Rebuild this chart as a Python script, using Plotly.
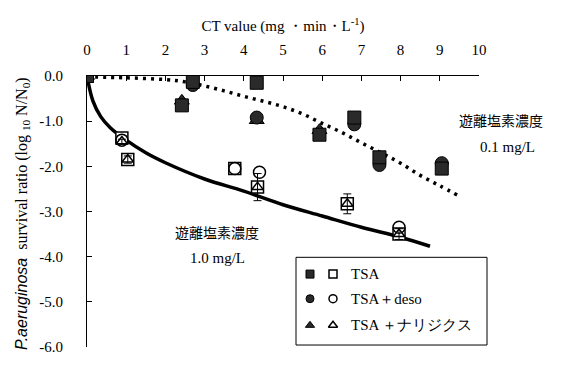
import plotly.graph_objects as go

# ---- measured survival (log10 N/N0) versus CT value ----
# free chlorine 0.1 mg/L (filled symbols)
ct_tsa_01 = [0, 2.42, 2.7, 4.33, 5.93, 6.82, 7.46, 9.05]
lr_tsa_01 = [0, -0.65, -0.13, -0.15, -1.3, -0.92, -1.8, -2.05]
ct_deso_01 = [0, 2.7, 4.33, 6.82, 7.46, 9.05]
lr_deso_01 = [0, -0.2, -0.92, -1.07, -1.97, -1.93]
ct_nal_01 = [0, 2.42, 4.33, 5.93]
lr_nal_01 = [0, -0.55, -0.98, -1.2]

# free chlorine 1.0 mg/L (open symbols)
ct_tsa_10 = [0, 0.89, 1.04, 3.77, 4.35, 6.64, 7.96]
lr_tsa_10 = [0, -1.37, -1.85, -2.05, -2.46, -2.83, -3.5]
ct_deso_10 = [0, 0.89, 3.77, 4.4, 7.96]
lr_deso_10 = [0, -1.42, -2.05, -2.13, -3.35]
ct_nal_10 = [0, 0.89, 1.04, 4.35, 6.64, 7.96]
lr_nal_10 = [0, -1.45, -1.85, -2.46, -2.83, -3.5]
err_nal_10 = [0, 0.05, 0.08, 0.3, 0.22, 0.12]

# fitted inactivation curves
fit01_ct = [0, 1, 2, 2.5, 3, 3.5, 4, 4.5, 5, 5.5, 6, 6.5, 7, 7.5, 8, 8.5, 9, 9.5]
fit01_lr = [-0.02, -0.04, -0.08, -0.13, -0.22, -0.33, -0.45, -0.56, -0.68,
            -0.84, -1.05, -1.25, -1.48, -1.7, -1.93, -2.2, -2.43, -2.66]
fit10_ct = [0, 0.15, 0.35, 0.6, 1.0, 1.5, 2, 3, 4, 5, 6, 7, 8, 8.75]
fit10_lr = [0, -0.55, -0.9, -1.15, -1.42, -1.7, -1.92, -2.28, -2.55, -2.85,
            -3.1, -3.35, -3.57, -3.77]

# axis ticks
x_ticks = list(range(0, 11))
y_ticks = [0, -1, -2, -3, -4, -5, -6]
y_ticktext = ["0.0", "-1.0", "-2.0", "-3.0", "-4.0", "-5.0", "-6.0"]

# legend rows
legend_labels = ["TSA", "TSA＋deso", "TSA ＋ナリジクス"]
legend_symbols = ["square", "circle", "triangle-up"]

W, H = 562, 367
ML, MR, MT, MB = 87, 83, 76, 16
PW, PH = W - ML - MR, H - MT - MB


def px(x):
    return (x - ML) / PW


def py(y):
    return (H - MB - y) / PH


SERIF = "Liberation Serif"
CJK = "Noto Sans CJK JP"
INK = "#2a2a2a"

fig = go.Figure()

fig.add_trace(go.Scatter(x=fit01_ct, y=fit01_lr, mode="lines",
                         line=dict(color="black", width=3.5, dash="3px,5px", shape="spline"),
                         hoverinfo="skip", showlegend=False))
fig.add_trace(go.Scatter(x=fit10_ct, y=fit10_lr, mode="lines",
                         line=dict(color="black", width=3.5, shape="spline"),
                         hoverinfo="skip", showlegend=False))

open_line = dict(color="black", width=1.5)
fig.add_trace(go.Scatter(x=ct_tsa_10, y=lr_tsa_10, mode="markers", showlegend=False,
                         marker=dict(symbol="square", size=12, color="white", line=open_line)))
fig.add_trace(go.Scatter(x=ct_deso_10, y=lr_deso_10, mode="markers", showlegend=False,
                         marker=dict(symbol="circle", size=12, color="rgba(0,0,0,0)", line=open_line)))
fig.add_trace(go.Scatter(x=ct_nal_10, y=lr_nal_10, mode="markers", showlegend=False,
                         error_y=dict(type="data", array=err_nal_10, color="black",
                                      thickness=1, width=4),
                         marker=dict(symbol="triangle-up", size=10, color="rgba(0,0,0,0)",
                                     line=open_line)))

fill_line = dict(color="black", width=1)
fig.add_trace(go.Scatter(x=ct_nal_01, y=lr_nal_01, mode="markers", showlegend=False,
                         marker=dict(symbol="triangle-up", size=13, color=INK, line=fill_line)))
fig.add_trace(go.Scatter(x=ct_deso_01, y=lr_deso_01, mode="markers", showlegend=False,
                         marker=dict(symbol="circle", size=13, color=INK, line=fill_line)))
fig.add_trace(go.Scatter(x=ct_tsa_01, y=lr_tsa_01, mode="markers", showlegend=False,
                         marker=dict(symbol="square", size=13, color=INK, line=fill_line)))

# legend box drawn on an overlay axis in paper units
row_y = [py(277), py(302), py(329)]
for sym, yy in zip(legend_symbols, row_y):
    fig.add_trace(go.Scatter(x=[px(310)], y=[yy], mode="markers", xaxis="x2", yaxis="y2",
                             showlegend=False, hoverinfo="skip", cliponaxis=False,
                             marker=dict(symbol=sym, size=8, color=INK, line=dict(color="black", width=1))))
    fig.add_trace(go.Scatter(x=[px(333)], y=[yy], mode="markers", xaxis="x2", yaxis="y2",
                             showlegend=False, hoverinfo="skip", cliponaxis=False,
                             marker=dict(symbol=sym, size=8, color="white",
                                         line=dict(color="black", width=1.5))))

annotations = []
for lab, yy in zip(legend_labels, row_y):
    annotations.append(dict(x=px(349), y=yy, text=lab, xanchor="left",
                            font=dict(family=SERIF, size=15, color="black")))

annotations += [
    dict(x=px(501), y=py(121), text="遊離塩素濃度", font=dict(family=CJK, size=14, color="black")),
    dict(x=px(507), y=py(148), text="0.1 mg/L", font=dict(family=SERIF, size=15, color="black")),
    dict(x=px(217), y=py(234), text="遊離塩素濃度", font=dict(family=CJK, size=14, color="black")),
    dict(x=px(217), y=py(261), text="1.0 mg/L", font=dict(family=SERIF, size=15, color="black")),
    dict(x=px(23), y=py(216), textangle=-90,
         text="<i><span style='font-family:Liberation Sans'>P.aeruginosa</span></i>"
              "  survival ratio (log <sub>10</sub> N/N<sub>0</sub>)",
         font=dict(family=SERIF, size=16, color="black")),
]
for a in annotations:
    a.setdefault("xref", "paper")
    a.setdefault("yref", "paper")
    a.setdefault("showarrow", False)
    a.setdefault("xanchor", "center")
    a.setdefault("yanchor", "middle")

fig.update_layout(
    width=W, height=H,
    margin=dict(l=ML, r=MR, t=MT, b=MB, pad=0),
    paper_bgcolor="white", plot_bgcolor="white",
    showlegend=False,
    xaxis=dict(range=[0, 10], side="top", tickvals=x_ticks, ticks="inside", ticklen=5,
               tickcolor="black", tickwidth=1, showline=True, linecolor="black", linewidth=1,
               showgrid=False, zeroline=False, ticklabelstandoff=14,
               tickfont=dict(family=SERIF, size=15, color="black"),
               title=dict(text="CT value (mg ・min・L<sup>-1</sup>)", standoff=6,
                          font=dict(family=SERIF, size=15, color="black"))),
    yaxis=dict(range=[-6, 0], tickvals=y_ticks, ticktext=y_ticktext, ticks="inside",
               ticklen=5, tickcolor="black", tickwidth=1, showline=True, linecolor="black",
               linewidth=1, showgrid=False, zeroline=False, ticklabelstandoff=20,
               tickfont=dict(family=SERIF, size=15, color="black")),
    xaxis2=dict(range=[0, 1], overlaying="x", visible=False, fixedrange=True),
    yaxis2=dict(range=[0, 1], overlaying="y", visible=False, fixedrange=True),
    shapes=[dict(type="rect", xref="paper", yref="paper",
                 x0=px(296), x1=px(487), y0=py(349), y1=py(260),
                 line=dict(color="black", width=1), fillcolor="rgba(0,0,0,0)")],
    annotations=annotations,
)

fig.write_html("out.html")
